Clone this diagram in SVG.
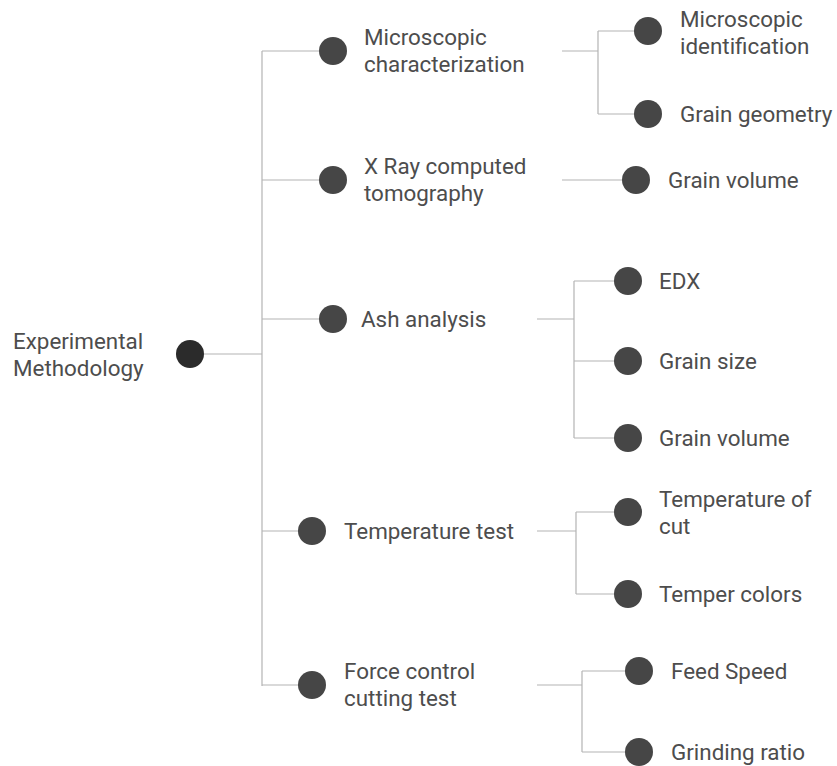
<svg xmlns="http://www.w3.org/2000/svg" width="837" height="766" viewBox="0 0 837 766">
<style>
  .ln { stroke: #b4b4b4; stroke-width: 1.2; fill: none; }
  .dot { fill: #464646; }
  .root { fill: #2b2b2b; }
  text { font-family: Roboto, "Liberation Sans", sans-serif; font-size: 22.4px; fill: #4d4d4d; }
</style>
<rect width="837" height="766" fill="#ffffff"/>
<g id="connectors">
  <path class="ln" d="M204,354 H262 M262,51 V686 M262,51 H319 M262,180 H319 M262,319 H319 M262,531 H299 M262,685 H299"/>
  <path class="ln" d="M562,51 H598 M598,31 V114 M598,31 H634 M598,114 H634"/>
  <path class="ln" d="M562,180 H622"/>
  <path class="ln" d="M537,319 H574 M574,281 V438 M574,281 H614 M574,361 H614 M574,438 H614"/>
  <path class="ln" d="M537,531 H576 M576,512 V594 M576,512 H614 M576,594 H614"/>
  <path class="ln" d="M537,685 H582 M582,671 V752 M582,671 H625 M582,752 H625"/>
</g>
<g id="root">
  <circle class="root" cx="190" cy="354" r="14"/>
  <text x="13" y="349">Experimental</text>
  <text x="13" y="376">Methodology</text>
</g>
<g id="microscopic-characterization">
  <circle class="dot" cx="333" cy="51" r="14"/>
  <text x="364" y="45">Microscopic</text>
  <text x="364" y="72">characterization</text>
</g>
<g id="xray">
  <circle class="dot" cx="333" cy="180" r="14"/>
  <text x="364" y="174">X Ray computed</text>
  <text x="364" y="201">tomography</text>
</g>
<g id="ash">
  <circle class="dot" cx="333" cy="319" r="14"/>
  <text x="361" y="327">Ash analysis</text>
</g>
<g id="temperature-test">
  <circle class="dot" cx="312" cy="531" r="14"/>
  <text x="344" y="539">Temperature test</text>
</g>
<g id="force-control">
  <circle class="dot" cx="312" cy="685" r="14"/>
  <text x="344" y="679">Force control</text>
  <text x="344" y="706">cutting test</text>
</g>
<g id="microscopic-identification">
  <circle class="dot" cx="648" cy="31" r="14"/>
  <text x="680" y="27">Microscopic</text>
  <text x="680" y="54">identification</text>
</g>
<g id="grain-geometry">
  <circle class="dot" cx="648" cy="114" r="14"/>
  <text x="680" y="122">Grain geometry</text>
</g>
<g id="grain-volume-xray">
  <circle class="dot" cx="636" cy="180" r="14"/>
  <text x="668" y="188">Grain volume</text>
</g>
<g id="edx">
  <circle class="dot" cx="628" cy="281" r="14"/>
  <text x="659" y="289">EDX</text>
</g>
<g id="grain-size">
  <circle class="dot" cx="628" cy="361" r="14"/>
  <text x="659" y="369">Grain size</text>
</g>
<g id="grain-volume-ash">
  <circle class="dot" cx="628" cy="438" r="14"/>
  <text x="659" y="446">Grain volume</text>
</g>
<g id="temperature-of-cut">
  <circle class="dot" cx="628" cy="512" r="14"/>
  <text x="659" y="507">Temperature of</text>
  <text x="659" y="534">cut</text>
</g>
<g id="temper-colors">
  <circle class="dot" cx="628" cy="594" r="14"/>
  <text x="659" y="602">Temper colors</text>
</g>
<g id="feed-speed">
  <circle class="dot" cx="639" cy="671" r="14"/>
  <text x="671" y="679">Feed Speed</text>
</g>
<g id="grinding-ratio">
  <circle class="dot" cx="639" cy="752" r="14"/>
  <text x="671" y="760">Grinding ratio</text>
</g>
</svg>
